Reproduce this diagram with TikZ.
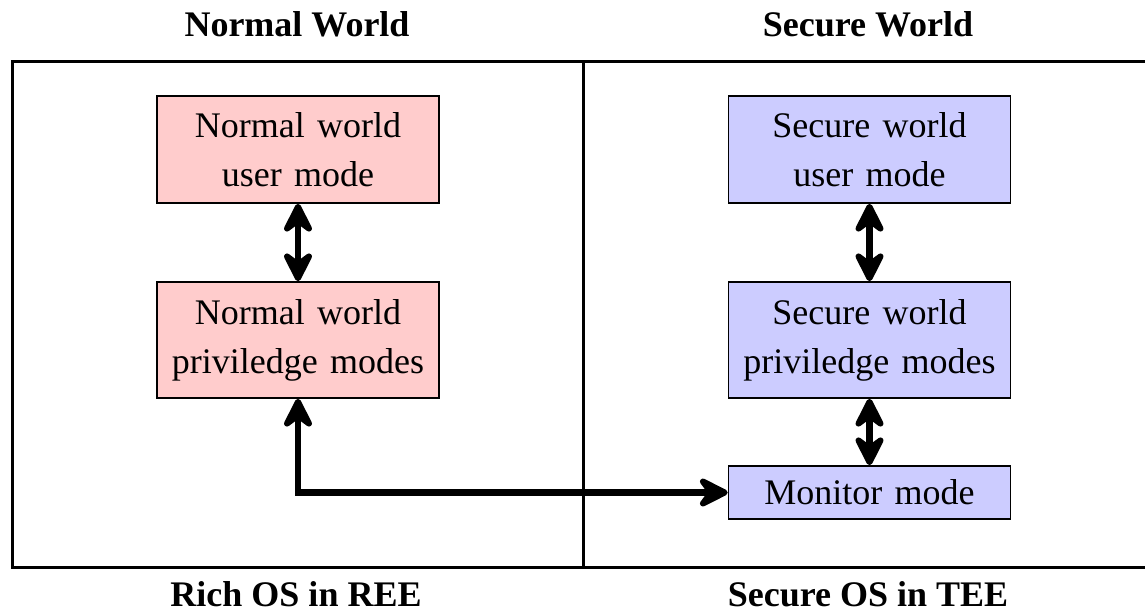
\documentclass[tikz,border=0pt]{standalone}
\usepackage{fontspec}
\setmainfont{Liberation Serif}
\usetikzlibrary{arrows.meta}
\newcommand\wsp{\hspace{6.2pt}}
\begin{document}
\begin{tikzpicture}[x=0.5pt,y=-0.5pt,
  font=\fontsize{18}{24.5}\selectfont,
  box/.style={draw, line width=0.8pt, align=center, minimum width=141pt, inner sep=0pt},
  nbox/.style={box, fill=red!20},
  sbox/.style={box, fill=blue!20},
  head/.style={font=\fontsize{18}{24.5}\selectfont\bfseries, anchor=base},
  tipst/.tip={Stealth[round,length=19pt,width=19pt,inset=7pt]},
  arr/.style={line width=3.2pt, tipst-tipst},
  frame/.style={line width=1.5pt}]
\useasboundingbox (0,0) rectangle (1145,612);
% frame
\draw[frame] (12.5,61) rectangle (1154,567.5);
\draw[frame] (583,61) -- (583,567.5);
% headings
\node[head] (hn) at (297,36) {Normal World};
\node[head] (hs) at (868,36) {Secure World};
\node[head] (hr) at (296,606) {Rich OS in REE};
\node[head] (ht) at (868,606) {Secure OS in TEE};
% boxes
\node[nbox, minimum height=53.5pt] (nu) at (298,149.5) {Normal\wsp world\\user\wsp mode};
\node[nbox, minimum height=58pt] (np) at (298,340) {Normal\wsp world\\priviledge\wsp modes};
\node[sbox, minimum height=53.5pt] (su) at (869.5,149.5) {Secure\wsp world\\user\wsp mode};
\node[sbox, minimum height=58pt] (sp) at (869.5,340) {Secure\wsp world\\priviledge\wsp modes};
\node[sbox, minimum height=26.5pt] (mon) at (869.5,492.5) {Monitor\wsp mode};
% arrows
\draw[arr] (nu.south) -- (np.north);
\draw[arr] (su.south) -- (sp.north);
\draw[arr] (sp.south) -- (mon.north);
\draw[arr] (np.south) |- (mon.west);
\end{tikzpicture}
\end{document}
